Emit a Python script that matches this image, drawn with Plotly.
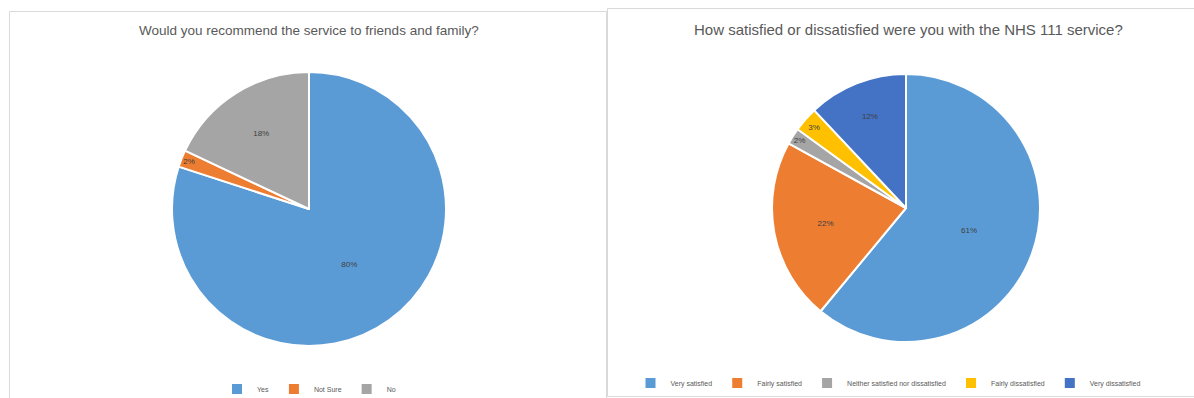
import plotly.graph_objects as go

W, H = 1194, 398

left_title = "Would you recommend the service to friends and family?"
left_labels = ["Yes", "Not Sure", "No"]
left_values = [80, 2, 18]
left_colors = ["#5B9BD5", "#ED7D31", "#A5A5A5"]

right_title = "How satisfied or dissatisfied were you with the NHS 111 service?"
right_labels = ["Very satisfied", "Fairly satisfied", "Neither satisfied nor dissatisfied",
                "Fairly dissatisfied", "Very dissatisfied"]
right_values = [61, 22, 2, 3, 12]
right_colors = ["#5B9BD5", "#ED7D31", "#A5A5A5", "#FFC000", "#4472C4"]


def px_x(x):
    return x / W


def px_y(y):
    return 1 - y / H


fig = go.Figure()

RL = 137
fig.add_trace(go.Pie(
    labels=left_labels, values=left_values, sort=False, direction="clockwise", rotation=0,
    marker=dict(colors=left_colors, line=dict(color="white", width=2)),
    texttemplate="%{percent:.0%}", textposition="inside", insidetextorientation="horizontal",
    textfont=dict(size=8, color="#404040", family="Liberation Sans"),
    domain=dict(x=[px_x(309 - RL), px_x(309 + RL)], y=[px_y(209 + RL), px_y(209 - RL)]),
    legend="legend", hoverinfo="label+percent", showlegend=True,
))

RR = 134
fig.add_trace(go.Pie(
    labels=right_labels, values=right_values, sort=False, direction="clockwise", rotation=0,
    marker=dict(colors=right_colors, line=dict(color="white", width=2)),
    texttemplate="%{percent:.0%}", textposition="inside", insidetextorientation="horizontal",
    textfont=dict(size=8, color="#404040", family="Liberation Sans"),
    domain=dict(x=[px_x(906 - RR), px_x(906 + RR)], y=[px_y(208 + RR), px_y(208 - RR)]),
    legend="legend2", hoverinfo="label+percent", showlegend=True,
))

shapes = [
    dict(type="rect", xref="paper", yref="paper", x0=px_x(9.5), x1=px_x(606.5),
         y0=px_y(400), y1=px_y(11.5), line=dict(color="#D9D9D9", width=1), fillcolor="rgba(0,0,0,0)"),
    dict(type="rect", xref="paper", yref="paper", x0=px_x(607.5), x1=px_x(1196),
         y0=px_y(396.5), y1=px_y(8.5), line=dict(color="#D9D9D9", width=1), fillcolor="rgba(0,0,0,0)"),
]

annotations = [
    dict(text=left_title, x=px_x(309), y=px_y(31), xref="paper", yref="paper",
         showarrow=False, xanchor="center", yanchor="middle",
         font=dict(size=13.5, color="#595959", family="Liberation Sans")),
    dict(text=right_title, x=px_x(908), y=px_y(30), xref="paper", yref="paper",
         showarrow=False, xanchor="center", yanchor="middle",
         font=dict(size=15, color="#595959", family="Liberation Sans")),
]

fig.update_layout(
    width=W, height=H, margin=dict(l=0, r=0, t=0, b=0, autoexpand=False),
    paper_bgcolor="white", plot_bgcolor="white",
    shapes=shapes, annotations=annotations,
    legend=dict(orientation="h", x=px_x(309), y=px_y(389), xanchor="center", yanchor="middle",
                font=dict(size=7, color="#595959", family="Liberation Sans"),
                itemwidth=30, bgcolor="rgba(0,0,0,0)", traceorder="normal"),
    legend2=dict(orientation="h", x=px_x(888), y=px_y(383), xanchor="center", yanchor="middle",
                 font=dict(size=7, color="#595959", family="Liberation Sans"),
                 itemwidth=30, bgcolor="rgba(0,0,0,0)", traceorder="normal"),
)

fig.write_html("out.html")
